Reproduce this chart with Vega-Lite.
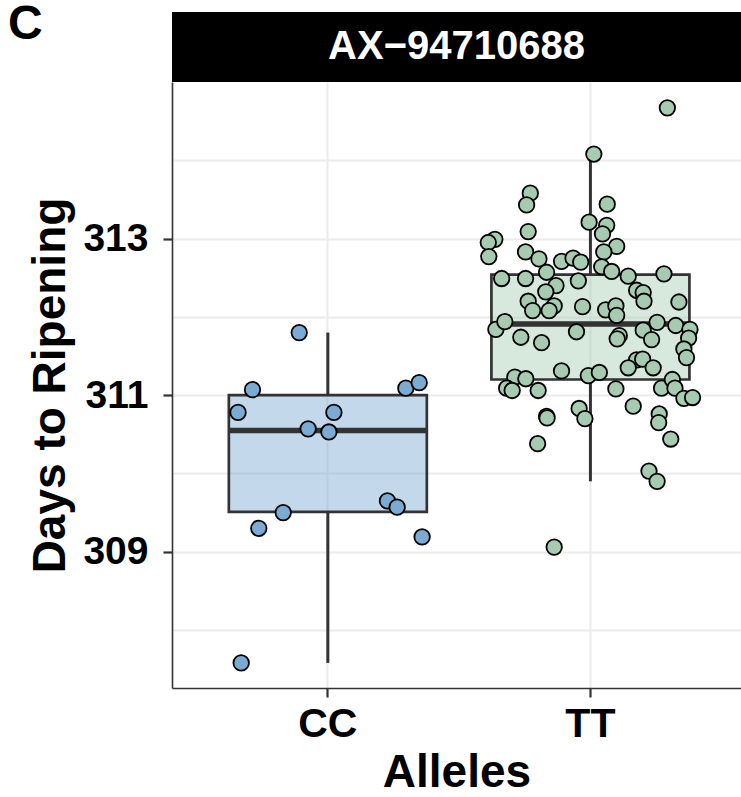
{
  "$schema": "https://vega.github.io/schema/vega-lite/v6.json",
  "background": "white",
  "padding": {"left": 7, "top": 1, "right": 0, "bottom": 0},
  "spacing": 0,
  "title": {"text": "C", "anchor": "start", "frame": "bounds", "font": "Liberation Sans", "fontWeight": "bold", "fontSize": 48, "color": "black", "offset": -37, "dx": -20},
  "datasets": {
    "strip": [{"marker": "AX−94710688"}],
    "boxes": [
      {"allele": "CC", "lower": 307.58, "q1": 309.51, "median": 310.55, "q3": 311.0, "upper": 311.8},
      {"allele": "TT", "lower": 309.9, "q1": 311.2, "median": 311.91, "q3": 312.54, "upper": 314.09}
    ],
    "points": [
      {"allele": "CC", "days": 311.80, "jitter": -0.109},
      {"allele": "CC", "days": 311.07, "jitter": -0.287},
      {"allele": "CC", "days": 310.78, "jitter": -0.342},
      {"allele": "CC", "days": 310.78, "jitter": 0.023},
      {"allele": "CC", "days": 310.57, "jitter": -0.075},
      {"allele": "CC", "days": 310.53, "jitter": 0.004},
      {"allele": "CC", "days": 311.09, "jitter": 0.297},
      {"allele": "CC", "days": 311.16, "jitter": 0.348},
      {"allele": "CC", "days": 309.65, "jitter": 0.227},
      {"allele": "CC", "days": 309.57, "jitter": 0.264},
      {"allele": "CC", "days": 309.50, "jitter": -0.170},
      {"allele": "CC", "days": 309.30, "jitter": -0.263},
      {"allele": "CC", "days": 309.19, "jitter": 0.359},
      {"allele": "CC", "days": 307.58, "jitter": -0.330},
      {"allele": "TT", "days": 314.67, "jitter": 0.293},
      {"allele": "TT", "days": 314.08, "jitter": 0.013},
      {"allele": "TT", "days": 313.58, "jitter": -0.229},
      {"allele": "TT", "days": 313.43, "jitter": -0.243},
      {"allele": "TT", "days": 313.44, "jitter": 0.064},
      {"allele": "TT", "days": 313.21, "jitter": -0.005},
      {"allele": "TT", "days": 313.17, "jitter": 0.062},
      {"allele": "TT", "days": 313.06, "jitter": 0.046},
      {"allele": "TT", "days": 313.09, "jitter": -0.237},
      {"allele": "TT", "days": 312.99, "jitter": -0.364},
      {"allele": "TT", "days": 312.95, "jitter": -0.389},
      {"allele": "TT", "days": 312.77, "jitter": -0.387},
      {"allele": "TT", "days": 312.83, "jitter": -0.247},
      {"allele": "TT", "days": 312.90, "jitter": 0.100},
      {"allele": "TT", "days": 312.83, "jitter": 0.051},
      {"allele": "TT", "days": 312.74, "jitter": -0.196},
      {"allele": "TT", "days": 312.71, "jitter": -0.110},
      {"allele": "TT", "days": 312.75, "jitter": -0.066},
      {"allele": "TT", "days": 312.70, "jitter": -0.037},
      {"allele": "TT", "days": 312.57, "jitter": -0.167},
      {"allele": "TT", "days": 312.64, "jitter": 0.043},
      {"allele": "TT", "days": 312.58, "jitter": 0.081},
      {"allele": "TT", "days": 312.52, "jitter": 0.144},
      {"allele": "TT", "days": 312.55, "jitter": 0.280},
      {"allele": "TT", "days": 312.49, "jitter": -0.338},
      {"allele": "TT", "days": 312.49, "jitter": -0.247},
      {"allele": "TT", "days": 312.46, "jitter": -0.046},
      {"allele": "TT", "days": 312.40, "jitter": -0.131},
      {"allele": "TT", "days": 312.32, "jitter": -0.170},
      {"allele": "TT", "days": 312.34, "jitter": 0.176},
      {"allele": "TT", "days": 312.31, "jitter": 0.201},
      {"allele": "TT", "days": 312.20, "jitter": 0.204},
      {"allele": "TT", "days": 312.19, "jitter": 0.337},
      {"allele": "TT", "days": 312.20, "jitter": -0.237},
      {"allele": "TT", "days": 312.08, "jitter": -0.220},
      {"allele": "TT", "days": 312.14, "jitter": -0.138},
      {"allele": "TT", "days": 312.08, "jitter": -0.157},
      {"allele": "TT", "days": 312.13, "jitter": -0.030},
      {"allele": "TT", "days": 312.09, "jitter": 0.058},
      {"allele": "TT", "days": 312.14, "jitter": 0.097},
      {"allele": "TT", "days": 312.02, "jitter": 0.100},
      {"allele": "TT", "days": 311.84, "jitter": -0.360},
      {"allele": "TT", "days": 311.94, "jitter": -0.326},
      {"allele": "TT", "days": 311.74, "jitter": -0.265},
      {"allele": "TT", "days": 311.67, "jitter": -0.186},
      {"allele": "TT", "days": 311.81, "jitter": -0.053},
      {"allele": "TT", "days": 311.76, "jitter": 0.110},
      {"allele": "TT", "days": 311.72, "jitter": 0.102},
      {"allele": "TT", "days": 311.83, "jitter": 0.201},
      {"allele": "TT", "days": 311.93, "jitter": 0.254},
      {"allele": "TT", "days": 311.89, "jitter": 0.325},
      {"allele": "TT", "days": 311.84, "jitter": 0.379},
      {"allele": "TT", "days": 311.73, "jitter": 0.374},
      {"allele": "TT", "days": 311.71, "jitter": 0.233},
      {"allele": "TT", "days": 311.59, "jitter": 0.356},
      {"allele": "TT", "days": 311.48, "jitter": 0.366},
      {"allele": "TT", "days": 311.45, "jitter": 0.176},
      {"allele": "TT", "days": 311.46, "jitter": 0.199},
      {"allele": "TT", "days": 311.35, "jitter": 0.144},
      {"allele": "TT", "days": 311.35, "jitter": 0.239},
      {"allele": "TT", "days": 311.31, "jitter": -0.110},
      {"allele": "TT", "days": 311.25, "jitter": -0.008},
      {"allele": "TT", "days": 311.29, "jitter": 0.034},
      {"allele": "TT", "days": 311.23, "jitter": -0.288},
      {"allele": "TT", "days": 311.21, "jitter": -0.246},
      {"allele": "TT", "days": 311.09, "jitter": -0.319},
      {"allele": "TT", "days": 311.06, "jitter": -0.298},
      {"allele": "TT", "days": 311.06, "jitter": -0.199},
      {"allele": "TT", "days": 311.08, "jitter": 0.097},
      {"allele": "TT", "days": 311.09, "jitter": 0.271},
      {"allele": "TT", "days": 311.20, "jitter": 0.312},
      {"allele": "TT", "days": 311.09, "jitter": 0.322},
      {"allele": "TT", "days": 310.96, "jitter": 0.356},
      {"allele": "TT", "days": 310.97, "jitter": 0.389},
      {"allele": "TT", "days": 310.86, "jitter": 0.163},
      {"allele": "TT", "days": 310.73, "jitter": -0.167},
      {"allele": "TT", "days": 310.71, "jitter": -0.165},
      {"allele": "TT", "days": 310.83, "jitter": -0.043},
      {"allele": "TT", "days": 310.70, "jitter": -0.021},
      {"allele": "TT", "days": 310.76, "jitter": 0.262},
      {"allele": "TT", "days": 310.65, "jitter": 0.260},
      {"allele": "TT", "days": 310.44, "jitter": 0.306},
      {"allele": "TT", "days": 310.38, "jitter": -0.201},
      {"allele": "TT", "days": 310.03, "jitter": 0.223},
      {"allele": "TT", "days": 309.90, "jitter": 0.254},
      {"allele": "TT", "days": 309.06, "jitter": -0.138}
    ]
  },
  "vconcat": [
    {
      "width": 569,
      "height": 70,
      "view": {"fill": "black", "stroke": null},
      "data": {"name": "strip"},
      "mark": {"type": "text", "color": "white", "font": "Liberation Sans", "fontWeight": "bold", "fontSize": 40, "baseline": "middle", "align": "center"},
      "encoding": {"text": {"field": "marker"}}
    },
    {
      "width": 569,
      "height": 606,
      "view": {"stroke": null},
      "encoding": {
        "x": {
          "field": "allele", "type": "nominal",
          "scale": {"domain": ["CC", "TT"], "paddingInner": 0, "paddingOuter": 0.0835, "align": 0.56},
          "axis": {
            "title": "Alleles", "labelAngle": 0, "bandPosition": 0.5,
            "labelFont": "Liberation Sans", "labelFontWeight": "bold", "labelFontSize": 41, "labelColor": "black", "labelPadding": 7,
            "titleFont": "Liberation Sans", "titleFontWeight": "bold", "titleFontSize": 46, "titleColor": "black", "titlePadding": 6,
            "grid": true, "gridColor": "#EBEBEB", "gridWidth": 2,
            "domainColor": "#333333", "domainWidth": 1.6, "tickColor": "#333333", "tickWidth": 2.2, "tickSize": 9
          }
        }
      },
      "layer": [
        {
          "data": {"name": "boxes"},
          "mark": {"type": "rule", "color": "#333333", "strokeWidth": 3},
          "encoding": {
            "y": {
              "field": "q3", "type": "quantitative",
              "scale": {"domain": [307.26, 315.0], "nice": false, "zero": false},
              "axis": {
                "title": "Days to Ripening", "format": "d",
                "values": [308, 309, 310, 311, 312, 313, 314],
                "labelExpr": "datum.value % 2 == 1 ? datum.label : ''",
                "tickOpacity": {"condition": {"test": "datum.value % 2 == 1", "value": 1}, "value": 0},
                "labelFont": "Liberation Sans", "labelFontWeight": "bold", "labelFontSize": 39, "labelColor": "black", "labelPadding": 15,
                "titleFont": "Liberation Sans", "titleFontWeight": "bold", "titleFontSize": 46, "titleColor": "black", "titlePadding": 8,
                "grid": true, "gridColor": "#EBEBEB", "gridWidth": 2,
                "domainColor": "#333333", "domainWidth": 1.6, "tickColor": "#333333", "tickWidth": 2.2, "tickSize": 9
              }
            },
            "y2": {"field": "upper"}
          }
        },
        {
          "data": {"name": "boxes"},
          "mark": {"type": "rule", "color": "#333333", "strokeWidth": 3},
          "encoding": {
            "y": {"field": "lower", "type": "quantitative"},
            "y2": {"field": "q1"}
          }
        },
        {
          "data": {"name": "boxes"},
          "mark": {"type": "bar", "size": 198, "fillOpacity": 0.45, "stroke": "#333333", "strokeWidth": 2.7},
          "encoding": {
            "y": {"field": "q1", "type": "quantitative"},
            "y2": {"field": "q3"},
            "fill": {"field": "allele", "type": "nominal", "scale": {"domain": ["CC", "TT"], "range": ["#7BAAD3", "#A7CBB1"]}, "legend": null}
          }
        },
        {
          "data": {"name": "boxes"},
          "mark": {"type": "tick", "color": "#333333", "thickness": 5.5, "size": 198, "opacity": 1},
          "encoding": {
            "y": {"field": "median", "type": "quantitative"}
          }
        },
        {
          "data": {"name": "points"},
          "mark": {"type": "point", "shape": "circle", "filled": false, "size": 240, "stroke": "black", "strokeWidth": 1.8, "opacity": 1, "fillOpacity": 1},
          "encoding": {
            "xOffset": {"field": "jitter", "type": "quantitative", "scale": {"domain": [-0.5, 0.5]}},
            "y": {"field": "days", "type": "quantitative"},
            "fill": {"field": "allele", "type": "nominal", "legend": null}
          }
        }
      ]
    }
  ],
  "config": {
    "view": {"stroke": null},
    "font": "Liberation Sans"
  }
}
